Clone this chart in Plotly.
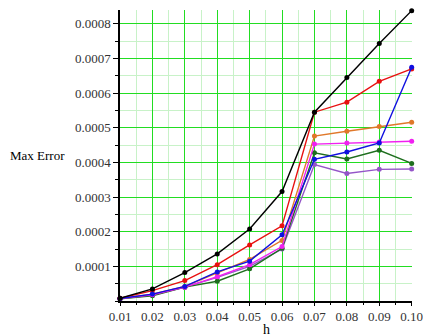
import plotly.graph_objects as go

h = [0.01, 0.02, 0.03, 0.04, 0.05, 0.06, 0.07, 0.08, 0.09, 0.10]

err_black   = [0.000008, 0.000035, 0.000082, 0.000136, 0.000208, 0.000316, 0.000545, 0.000645, 0.000743, 0.000838]
err_red     = [0.000008, 0.000030, 0.000059, 0.000105, 0.000162, 0.000217, 0.000545, 0.000574, 0.000634, 0.000670]
err_orange  = [0.000007, 0.000020, 0.000042, 0.000080, 0.000120, 0.000175, 0.000476, 0.000490, 0.000504, 0.000516]
err_magenta = [0.000007, 0.000018, 0.000040, 0.000070, 0.000105, 0.000157, 0.000453, 0.000456, 0.000459, 0.000461]
err_blue    = [0.000007, 0.000020, 0.000042, 0.000084, 0.000115, 0.000191, 0.000409, 0.000430, 0.000456, 0.000675]
err_green   = [0.000006, 0.000015, 0.000040, 0.000057, 0.000093, 0.000152, 0.000428, 0.000410, 0.000435, 0.000397]
err_purple  = [0.000006, 0.000017, 0.000040, 0.000068, 0.000100, 0.000150, 0.000394, 0.000368, 0.000380, 0.000381]

series = [
    (err_purple, "#9455c8"),
    (err_green, "#1e6e1e"),
    (err_orange, "#e0782a"),
    (err_magenta, "#f020f0"),
    (err_red, "#e81010"),
    (err_blue, "#1010e0"),
    (err_black, "#000000"),
]

y_ticks = [0.0001, 0.0002, 0.0003, 0.0004, 0.0005, 0.0006, 0.0007, 0.0008]
y_labels = ["0.0001", "0.0002", "0.0003", "0.0004", "0.0005", "0.0006", "0.0007", "0.0008"]
x_labels = ["0.01", "0.02", "0.03", "0.04", "0.05", "0.06", "0.07", "0.08", "0.09", "0.10"]

fig = go.Figure()
for vals, col in series:
    fig.add_trace(go.Scatter(
        x=h, y=vals, mode="lines+markers",
        line=dict(color=col, width=1.4),
        marker=dict(color=col, size=5, symbol="circle"),
        cliponaxis=False, showlegend=False,
    ))

SERIF = "Liberation Serif"
font = dict(family=SERIF, size=13, color="#333333")

fig.update_layout(
    width=423, height=336,
    margin=dict(l=120, r=11, t=10, b=35),
    paper_bgcolor="white", plot_bgcolor="white",
    font=font,
    xaxis=dict(
        range=[0.01, 0.1001], tickvals=h, ticktext=x_labels,
        tickfont=dict(family=SERIF, size=13, color="#333333"),
        ticklabeloverflow="allow", automargin=False,
        showgrid=True, gridcolor="#22dd22", gridwidth=1,
        showline=True, linecolor="black", linewidth=1.5,
        ticks="outside", ticklen=3, tickcolor="black",
        zeroline=False,
        minor=dict(dtick=0.005, tick0=0.01, showgrid=True, gridcolor="#c8f2c8",
                   ticks="outside", ticklen=2, tickcolor="black"),
    ),
    yaxis=dict(
        range=[0, 0.00084], tickvals=y_ticks, ticktext=y_labels,
        tickfont=dict(family=SERIF, size=13, color="#333333"),
        automargin=False,
        showgrid=True, gridcolor="#22dd22", gridwidth=1,
        showline=True, linecolor="black", linewidth=1.5,
        ticks="outside", ticklen=5, tickcolor="black",
        zeroline=False,
        minor=dict(dtick=0.00005, tick0=0, showgrid=True, gridcolor="#c8f2c8",
                   ticks="outside", ticklen=3, tickcolor="black"),
    ),
    annotations=[
        dict(text="Max Error", xref="paper", yref="paper", x=-0.284, y=0.5,
             xanchor="center", yanchor="middle", showarrow=False,
             font=dict(family=SERIF, size=13, color="black")),
        dict(text="h", xref="paper", yref="paper", x=0.5, y=-0.097,
             xanchor="center", yanchor="middle", showarrow=False,
             font=dict(family=SERIF, size=14, color="black")),
    ],
)

fig.write_html("out.html")
